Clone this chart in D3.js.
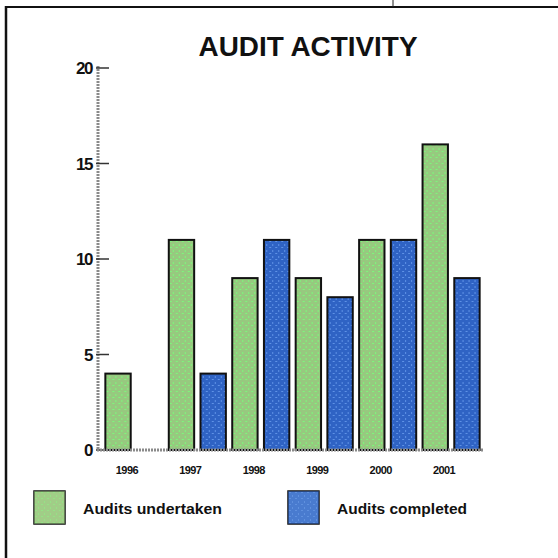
<!DOCTYPE html>
<html>
<head>
<meta charset="utf-8">
<script src="https://cdn.jsdelivr.net/npm/d3@7"></script>
<style>
  html, body { margin: 0; padding: 0; background: #fff; }
  svg { display: block; }
</style>
</head>
<body>
<script>
// Audit activity by year
const years = ["1996", "1997", "1998", "1999", "2000", "2001"];
const undertaken = [4, 11, 9, 9, 11, 16];
const completed = [0, 4, 11, 8, 11, 9];
const seriesNames = ["Audits undertaken", "Audits completed"];
const yTicks = [0, 5, 10, 15, 20];

const W = 558, H = 558;
const svg = d3.select("body").append("svg").attr("width", W).attr("height", H);
const defs = svg.append("defs");

// Halftone-style fills for the two series
function dotPattern(id, base, dot) {
  const p = defs.append("pattern").attr("id", id)
    .attr("patternUnits", "userSpaceOnUse").attr("width", 6).attr("height", 6);
  p.append("rect").attr("width", 6).attr("height", 6).attr("fill", base);
  p.append("rect").attr("x", 1).attr("y", 1).attr("width", 2).attr("height", 1).attr("fill", dot);
  p.append("rect").attr("x", 4).attr("y", 4).attr("width", 1).attr("height", 2).attr("fill", dot);
}
dotPattern("fillU", "#97c97f", "#7cf77c");
dotPattern("fillC", "#2f63c4", "#5f92e6");
const fills = ["url(#fillU)", "url(#fillC)"];

// Frame lines
svg.append("line").attr("x1", 5).attr("x2", W).attr("y1", 7).attr("y2", 7)
  .attr("stroke", "#111").attr("stroke-width", 2);
svg.append("line").attr("x1", 6).attr("x2", 6).attr("y1", 6).attr("y2", H)
  .attr("stroke", "#111").attr("stroke-width", 2.5);
svg.append("line").attr("x1", 393).attr("x2", 393).attr("y1", 0).attr("y2", 7)
  .attr("stroke", "#222").attr("stroke-width", 1);

// Title
svg.append("text").attr("x", 308).attr("y", 56).attr("text-anchor", "middle")
  .attr("font-family", "Liberation Sans, Arial, sans-serif")
  .attr("font-weight", "bold").attr("font-size", 27)
  .attr("textLength", 219).attr("lengthAdjust", "spacingAndGlyphs")
  .attr("fill", "#111").text("AUDIT ACTIVITY");

// Scales
const x0 = d3.scaleBand().domain(years).range([99, 486]).paddingInner(0.1).paddingOuter(0.1);
const x1 = d3.scaleBand().domain([0, 1]).range([0, x0.bandwidth()]).paddingInner(0.2);
const y = d3.scaleLinear().domain([0, 20]).range([450, 68]);

// Bars
const groups = svg.append("g").selectAll("g").data(years).join("g")
  .attr("transform", d => `translate(${x0(d)},0)`);
groups.selectAll("rect")
  .data((d, i) => [undertaken[i], completed[i]].map((v, s) => ({ v, s })).filter(e => e.v > 0))
  .join("rect")
  .attr("x", e => x1(e.s))
  .attr("y", e => y(e.v))
  .attr("width", x1.bandwidth())
  .attr("height", e => y(0) - y(e.v))
  .attr("fill", e => fills[e.s])
  .attr("stroke", "#111").attr("stroke-width", 2);

// Y axis
const yAxis = svg.append("g").attr("transform", "translate(98,0)");
yAxis.append("line").attr("x1", 0).attr("x2", 0).attr("y1", y(20) - 2).attr("y2", y(0))
  .attr("stroke", "#8a8a8a").attr("stroke-width", 3).attr("stroke-dasharray", "2,1");
yAxis.selectAll("line.tick").data(yTicks).join("line").attr("class", "tick")
  .attr("x1", -2).attr("x2", 11).attr("y1", d => y(d)).attr("y2", d => y(d))
  .attr("stroke", "#333").attr("stroke-width", 1.5);
yAxis.selectAll("text").data(yTicks).join("text")
  .attr("x", -6).attr("y", d => y(d) + 6).attr("text-anchor", "end")
  .attr("font-family", "Liberation Sans, Arial, sans-serif")
  .attr("font-weight", "bold").attr("font-size", 17).attr("letter-spacing", -1.5)
  .attr("fill", "#111").text(d => d);

// X axis
svg.append("line").attr("x1", 97).attr("x2", 483).attr("y1", y(0)).attr("y2", y(0))
  .attr("stroke", "#8a8a8a").attr("stroke-width", 3).attr("stroke-dasharray", "2,1");
svg.append("g").selectAll("text").data(years).join("text")
  .attr("x", d => x0(d) + x0.bandwidth() / 2 - 7)
  .attr("y", 474).attr("text-anchor", "middle")
  .attr("font-family", "Liberation Sans, Arial, sans-serif")
  .attr("font-weight", "bold").attr("font-size", 11).attr("letter-spacing", -0.6)
  .attr("fill", "#111").text(d => d);

// Legend
const legendX = [34, 288];
const legendTextW = [139, 130];
const leg = svg.append("g").selectAll("g").data(seriesNames).join("g")
  .attr("transform", (d, i) => `translate(${legendX[i]},491)`);
leg.append("rect").attr("width", 31).attr("height", 33)
  .attr("fill", (d, i) => i === 0 ? "#a9d18e" : "#5f8fd8")
  .attr("stroke", "#111").attr("stroke-width", 1.5);
leg.append("rect").attr("width", 31).attr("height", 33)
  .attr("fill", (d, i) => fills[i]).attr("opacity", 0.45);
leg.append("text").attr("x", 49).attr("y", 23)
  .attr("font-family", "Liberation Sans, Arial, sans-serif")
  .attr("font-weight", "bold").attr("font-size", 15)
  .attr("textLength", (d, i) => legendTextW[i]).attr("lengthAdjust", "spacingAndGlyphs")
  .attr("fill", "#111").text(d => d);
</script>
</body>
</html>
